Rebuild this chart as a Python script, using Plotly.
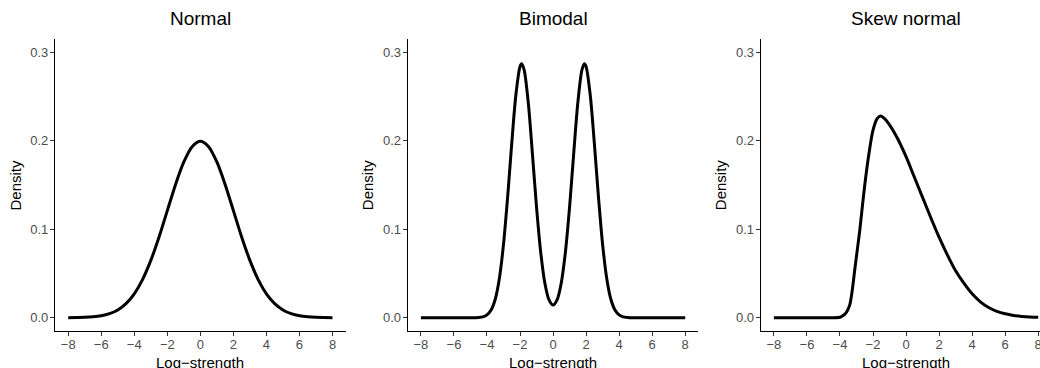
import plotly.graph_objects as go

# ---- data ----
panel_titles = ["Normal", "Bimodal", "Skew normal"]
x_title = "Log\u2212strength"
y_title = "Density"
x_tick_vals = [-8, -6, -4, -2, 0, 2, 4, 6, 8]
y_tick_vals = [0.0, 0.1, 0.2, 0.3]
y_tick_text = ["0.0", "0.1", "0.2", "0.3"]

normal_x = [-8, -7.5, -7, -6.5, -6, -5.5, -5, -4.5, -4, -3.5, -3, -2.5, -2, -1.5, -1, -0.5,
            0, 0.5, 1, 1.5, 2, 2.5, 3, 3.5, 4, 4.5, 5, 5.5, 6, 6.5, 7, 7.5, 8]
normal_y = [0.0001, 0.0002, 0.0004, 0.0010, 0.0022, 0.0046, 0.0088, 0.0159, 0.0270, 0.0431,
            0.0648, 0.0913, 0.1210, 0.1506, 0.1760, 0.1933,
            0.1995,
            0.1933, 0.1760, 0.1506, 0.1210, 0.0913, 0.0648, 0.0431, 0.0270, 0.0159, 0.0088,
            0.0046, 0.0022, 0.0010, 0.0004, 0.0002, 0.0001]

bimodal_x = [-8, -7, -6, -5, -4.5, -4.25, -4, -3.75, -3.5, -3.25, -3, -2.75, -2.5, -2.25,
             -2, -1.9, -1.75, -1.5, -1.25, -1, -0.75, -0.5, -0.25,
             0,
             0.25, 0.5, 0.75, 1, 1.25, 1.5, 1.75, 1.9, 2, 2.25, 2.5, 2.75, 3, 3.25, 3.5,
             3.75, 4, 4.25, 4.5, 5, 6, 7, 8]
bimodal_y = [0, 0, 0, 0.00001, 0.0003, 0.0010, 0.0032, 0.0087, 0.0209, 0.0444, 0.0829,
             0.1363, 0.1973, 0.2520, 0.2840, 0.2870, 0.2800, 0.2430, 0.1855, 0.1250,
             0.0745, 0.0396, 0.0205,
             0.0143,
             0.0205, 0.0396, 0.0745, 0.1250, 0.1855, 0.2430, 0.2800, 0.2870, 0.2840,
             0.2520, 0.1973, 0.1363, 0.0829, 0.0444, 0.0209, 0.0087, 0.0032, 0.0010,
             0.0003, 0.00001, 0, 0, 0]

skew_x = [-8, -6, -4.5, -4.0, -3.9, -3.7, -3.55, -3.4, -3.25, -3.1, -2.95, -2.8, -2.65,
          -2.5, -2.25, -2.0, -1.75, -1.55, -1.3, -1.0, -0.5, 0, 0.5, 1.0, 1.5, 2.0, 2.5,
          3.0, 3.5, 4.0, 4.5, 5.0, 5.5, 6.0, 6.5, 7.0, 7.5, 8.0]
skew_y = [0, 0, 0, 0.0005, 0.0015, 0.004, 0.008, 0.015, 0.032, 0.055, 0.077, 0.099, 0.125,
          0.150, 0.185, 0.212, 0.225, 0.228, 0.225, 0.218, 0.202, 0.182, 0.159, 0.136,
          0.113, 0.091, 0.071, 0.053, 0.039, 0.027, 0.018, 0.0115, 0.0072, 0.0044, 0.0026,
          0.0015, 0.0008, 0.0004]

series = [(normal_x, normal_y), (bimodal_x, bimodal_y), (skew_x, skew_y)]

# ---- layout geometry ----
W, H = 1040, 368
x_domains = [[55 / W, 345.7 / W], [407.7 / W, 698.4 / W], [760.7 / W, 1.0]]
x_ranges = [[-8.8, 8.8], [-8.8, 8.8], [-8.8, 8.11]]
y_domain = [37 / H, 329 / H]
y_range = [-0.015, 0.315]
PANEL_W = 290.7

FONT = "Liberation Sans, Arial, Helvetica, sans-serif"

fig = go.Figure()
for i, (xs, ys) in enumerate(series):
    sfx = "" if i == 0 else str(i + 1)
    fig.add_trace(go.Scatter(
        x=xs, y=ys, mode="lines",
        line=dict(color="black", width=3, shape="spline", smoothing=0.8),
        xaxis="x" + sfx, yaxis="y" + sfx, showlegend=False, hoverinfo="skip",
    ))

layout = dict(
    width=W, height=H,
    margin=dict(l=0, r=0, t=0, b=0, pad=0, autoexpand=False),
    paper_bgcolor="white", plot_bgcolor="white",
    font=dict(family=FONT, color="black"),
    showlegend=False,
    annotations=[],
)

for i in range(3):
    sfx = "" if i == 0 else str(i + 1)
    left_px = x_domains[i][0] * W
    cx = (left_px + PANEL_W / 2) / W
    layout["xaxis" + sfx] = dict(
        domain=x_domains[i], range=x_ranges[i], anchor="y" + sfx,
        automargin=False,
        showgrid=False, zeroline=False,
        showline=True, linecolor="black", linewidth=1.1,
        ticks="outside", ticklen=4, tickwidth=1.1, tickcolor="#333333",
        tickvals=x_tick_vals, ticklabeloverflow="allow", ticklabelstandoff=-3,
        tickfont=dict(family=FONT, size=13, color="#4D4D4D"),
    )
    layout["yaxis" + sfx] = dict(
        domain=y_domain, range=y_range, anchor="x" + sfx,
        automargin=False,
        showgrid=False, zeroline=False,
        showline=True, linecolor="black", linewidth=1.1,
        ticks="outside", ticklen=4, tickwidth=1.1, tickcolor="#333333",
        tickvals=y_tick_vals, ticktext=y_tick_text, ticklabelstandoff=-1,
        tickfont=dict(family=FONT, size=13, color="#4D4D4D"),
    )
    # panel title
    layout["annotations"].append(dict(
        text=panel_titles[i], xref="paper", yref="paper",
        x=cx, y=1 - 19 / H,
        xanchor="center", yanchor="middle", showarrow=False,
        font=dict(family=FONT, size=19, color="black"),
    ))
    # x-axis title
    layout["annotations"].append(dict(
        text=x_title, xref="paper", yref="paper",
        x=cx, y=1 - 362 / H,
        xanchor="center", yanchor="middle", showarrow=False,
        font=dict(family=FONT, size=15, color="black"),
    ))
    # y-axis title
    layout["annotations"].append(dict(
        text=y_title, xref="paper", yref="paper", textangle=-90,
        x=(left_px - 39.5) / W, y=1 - 185 / H,
        xanchor="center", yanchor="middle", showarrow=False,
        font=dict(family=FONT, size=15, color="black"),
    ))

fig.update_layout(**layout)
fig.write_html("out.html")
